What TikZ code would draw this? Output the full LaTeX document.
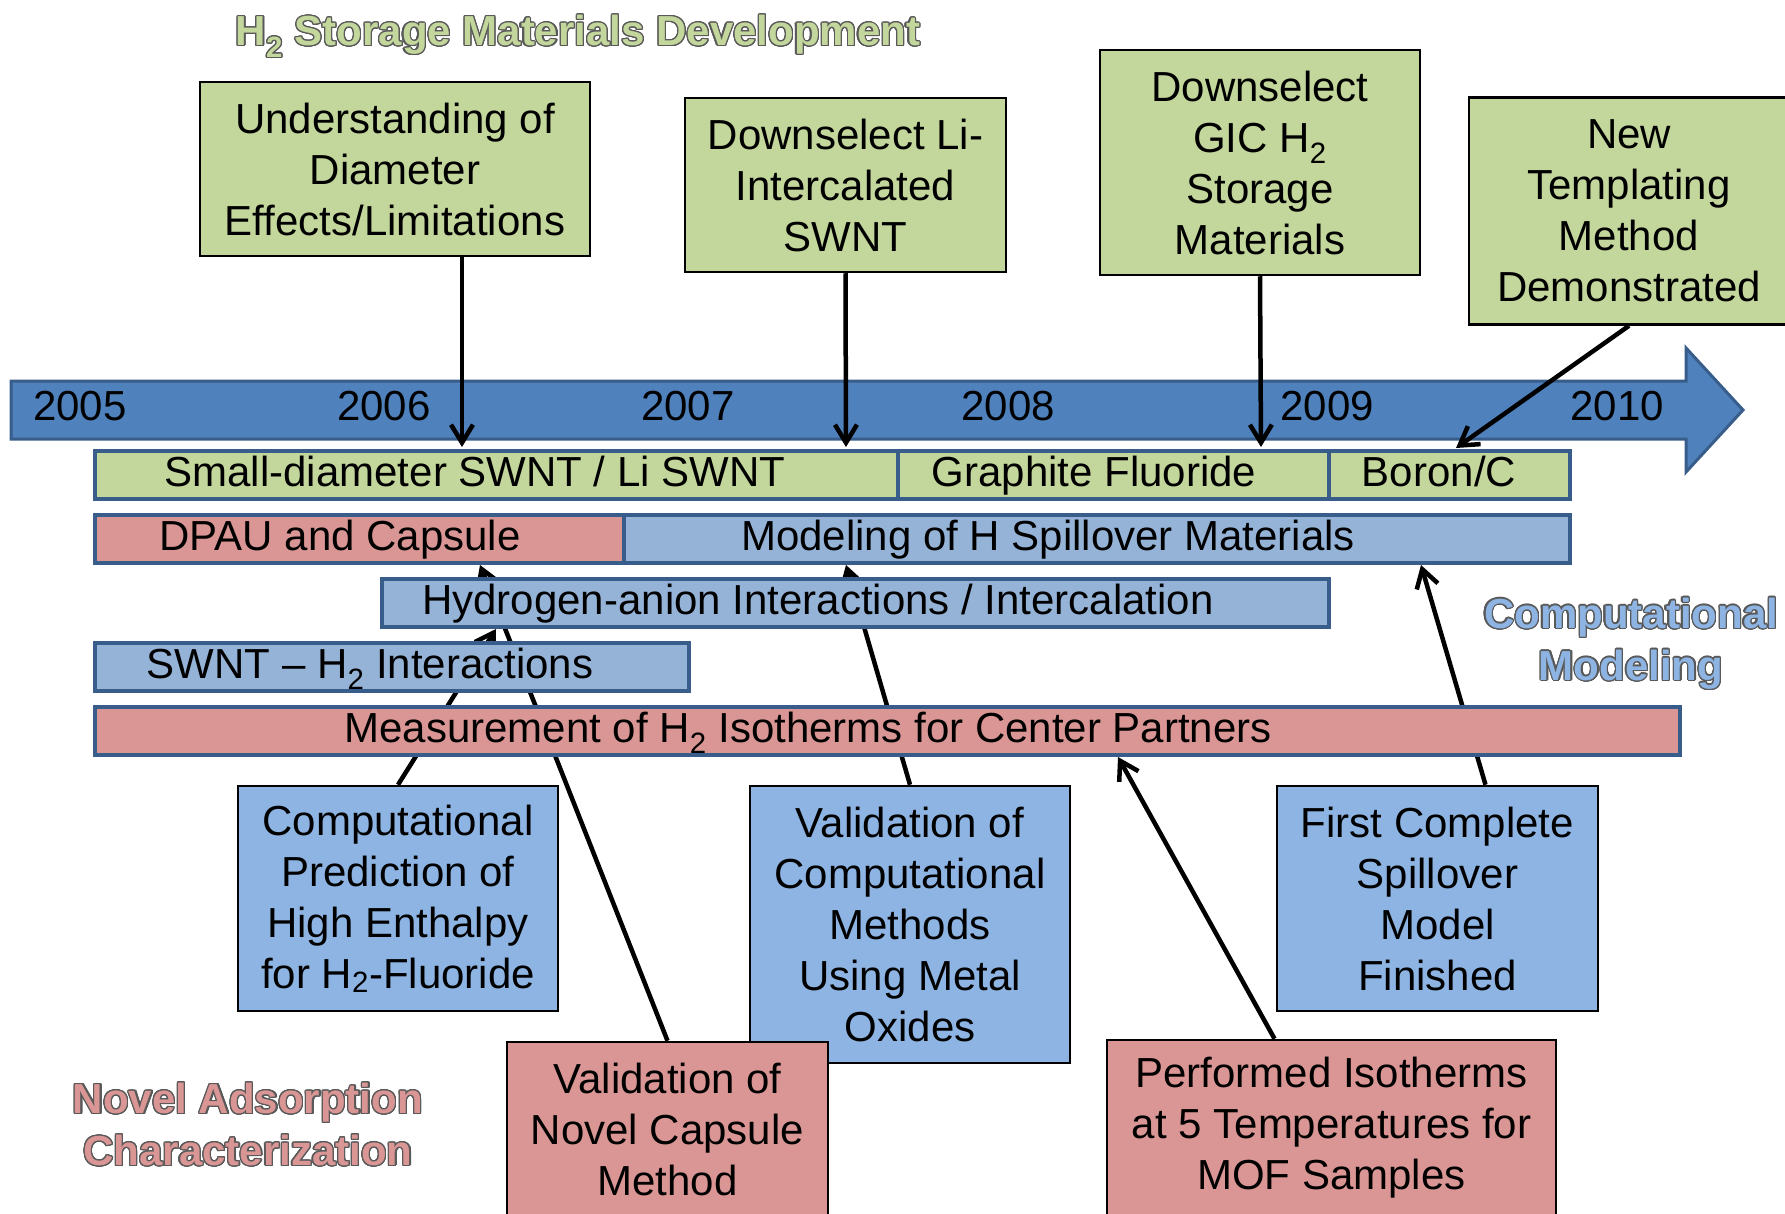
\documentclass[tikz,border=0pt]{standalone}
\usepackage{fontspec}
\setmainfont{Liberation Sans}
\usepackage[copies]{contour}
\usetikzlibrary{arrows.meta,backgrounds}

\contourlength{1.2pt}
\contournumber{24}

\definecolor{boxgreen}{HTML}{C3D69B}
\definecolor{boxred}{HTML}{D99694}
\definecolor{barblue}{HTML}{95B3D7}
\definecolor{boxblue}{HTML}{8DB4E2}
\definecolor{rimblue}{HTML}{385D8A}
\definecolor{axisblue}{HTML}{4F81BD}
\definecolor{rimgray}{HTML}{595959}

\newcommand{\outlined}[2]{{\color{#1}\contour{rimgray}{#2}}}

\tikzset{
  big/.style={font=\fontsize{42}{51}\selectfont},
  box/.style={big, draw=black, line width=2.5pt, align=center, inner sep=0pt},
  bar/.style={draw=rimblue, line width=4pt, anchor=north west,
    minimum height=48pt, inner sep=0pt},
  bartext/.style={big, anchor=base, inner sep=0pt},
  year/.style={big, inner sep=0pt},
  head/.style={font=\fontsize{42}{52}\selectfont\bfseries, align=center, inner sep=0pt},
  link/.style={line width=4.5pt, -{Straight Barb[length=18pt,width=22pt]}},
}

\begin{document}
\begin{tikzpicture}[x=1pt,y=-1pt]
  \useasboundingbox (0,0) rectangle (1785,1214);

  % headings
  \node[head] (title) at (578,37) {\outlined{boxgreen}{H\textsubscript{2} Storage Materials Development}};
  \node[head] (comphead) at (1631,644) {\outlined{boxblue}{Computational}\\\outlined{boxblue}{Modeling}};
  \node[head] (novhead) at (248,1125) {\outlined{boxred}{Novel Adsorption}\\\outlined{boxred}{Characterization}};

  % milestones above the time line
  \node[box, fill=boxgreen, minimum width=390pt, minimum height=174pt] (und) at (395,169)
    {Understanding of\\Diameter\\Effects/Limitations};
  \node[box, fill=boxgreen, minimum width=321pt, minimum height=174pt] (lisw) at (845.5,185)
    {Downselect Li-\\Intercalated\\SWNT};
  \node[box, fill=boxgreen, minimum width=320pt, minimum height=225pt] (gic) at (1260,162.5)
    {Downselect\\GIC H\textsubscript{2}\\Storage\\Materials};
  \node[box, fill=boxgreen, minimum width=320pt, minimum height=227pt] (tmpl) at (1629,211)
    {New\\Templating\\Method\\Demonstrated};

  % years
  \node[year] (y05) at (80,406) {2005};
  \node[year] (y06) at (384,406) {2006};
  \node[year] (y07) at (688,406) {2007};
  \node[year] (y08) at (1008,406) {2008};
  \node[year] (y09) at (1327,406) {2009};
  \node[year] (y10) at (1617,406) {2010};

  % activity bars
  \node[bar, fill=boxgreen, minimum width=803pt] (small) at (93,449) {};
  \node[bar, fill=boxgreen, minimum width=431pt] (graph) at (896,449) {};
  \node[bar, fill=boxgreen, minimum width=241pt] (boron) at (1327,449) {};
  \node[bar, fill=boxred, minimum width=529pt] (dpau) at (93,513) {};
  \node[bar, fill=barblue, minimum width=946pt] (model) at (622,513) {};
  \node[bar, fill=barblue, minimum width=947pt] (hyd) at (380,577) {};
  \node[bar, fill=barblue, minimum width=594pt] (swnt) at (93,641) {};
  \node[bar, fill=boxred, minimum width=1585pt] (meas) at (93,705) {};

  \node[bartext] (small-t) at (475,486) {Small-diameter SWNT / Li SWNT};
  \node[bartext] (graph-t) at (1094,486) {Graphite Fluoride};
  \node[bartext] (boron-t) at (1439,486) {Boron/C};
  \node[bartext] (dpau-t) at (340,550) {DPAU and Capsule};
  \node[bartext] (model-t) at (1048,550) {Modeling of H Spillover Materials};
  \node[bartext] (hyd-t) at (818,614) {Hydrogen-anion Interactions / Intercalation};
  \node[bartext] (swnt-t) at (370,678) {SWNT -- H\textsubscript{2} Interactions};
  \node[bartext] (meas-t) at (808,742) {Measurement of H\textsubscript{2} Isotherms for Center Partners};

  % milestones below
  \node[box, fill=boxblue, minimum width=320pt, minimum height=225pt] (pred) at (398,898.5)
    {Computational\\Prediction of\\High Enthalpy\\for H\textsubscript{\smash{2}}-Fluoride};
  \node[box, fill=boxblue, minimum width=320pt, minimum height=277pt] (vmo) at (910,924.5)
    {Validation of\\Computational\\Methods\\Using Metal\\Oxides};
  \node[box, fill=boxblue, minimum width=321pt, minimum height=225pt] (spill) at (1437.5,898.5)
    {First Complete\\Spillover\\Model\\Finished};
  \node[box, fill=boxred, minimum width=321pt, minimum height=174pt] (caps) at (667.5,1129)
    {Validation of\\Novel Capsule\\Method};
  \node[box, fill=boxred, minimum width=449pt, minimum height=176pt] (iso) at (1331.5,1128)
    {Performed Isotherms\\at 5 Temperatures for\\MOF Samples};

  % arrow ends
  \coordinate (e1) at (462,447);
  \coordinate (e2) at (846,447);
  \coordinate (e3) at (1261,447);
  \coordinate (e4) at (1456,448);
  \coordinate (e5) at (496,629);
  \coordinate (e6) at (480,565);
  \coordinate (e7) at (846,565);
  \coordinate (e8) at (1421,565);
  \coordinate (e9) at (1118,757);

  \begin{pgfonlayer}{background}
    % time line
    \draw[draw=rimblue, fill=axisblue, line width=3pt]
      (11,381) -- (1686,381) -- (1686,348) -- (1743,410) -- (1686,472)
      -- (1686,439) -- (11,439) -- cycle;

    \draw[link] ([xshift=67pt]und.south) -- (e1);
    \draw[link] (lisw.south) -- (e2);
    \draw[link] (gic.south) -- (e3);
    \draw[link] (tmpl.south) -- (e4);
    \draw[link] (pred.north) -- (e5);
    \draw[link] (caps.north) -- (e6);
    \draw[link] (vmo.north) -- (e7);
    \draw[link] ([xshift=48pt]spill.north) -- (e8);
    \draw[link] ([xshift=-57pt]iso.north) -- (e9);
  \end{pgfonlayer}
\end{tikzpicture}
\end{document}
